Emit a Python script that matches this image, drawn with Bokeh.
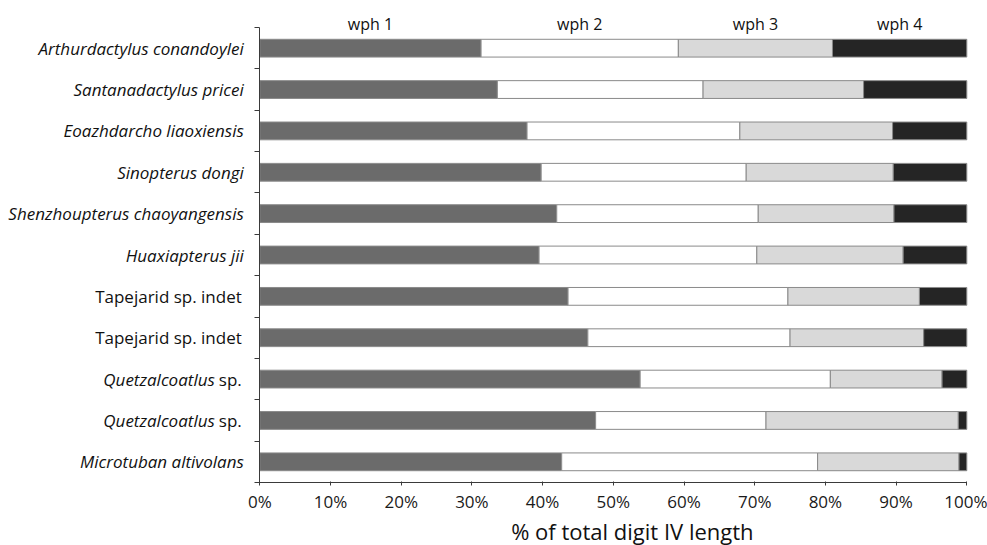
from bokeh.plotting import figure
from bokeh.models import ColumnDataSource, Range1d, FixedTicker, PrintfTickFormatter, CustomLabelingPolicy
from bokeh.core.properties import value
from bokeh.embed import file_html
from bokeh.resources import INLINE

# ---- data (top row first) ----
species_italic = ["Arthurdactylus conandoylei", "Santanadactylus pricei", "Eoazhdarcho liaoxiensis",
                  "Sinopterus dongi", "Shenzhoupterus chaoyangensis", "Huaxiapterus jii",
                  "", "", "Quetzalcoatlus", "Quetzalcoatlus", "Microtuban altivolans"]
species_roman = ["", "", "", "", "", "", "Tapejarid sp. indet", "Tapejarid sp. indet", "sp.", "sp.", ""]

wph1 = [31.3, 33.6, 37.8, 39.8, 42.0, 39.5, 43.6, 46.4, 53.8, 47.5, 42.7]
wph2 = [27.9, 29.1, 30.1, 29.0, 28.5, 30.8, 31.1, 28.6, 26.9, 24.1, 36.2]
wph3 = [21.8, 22.7, 21.6, 20.8, 19.2, 20.7, 18.6, 18.9, 15.8, 27.2, 20.0]
wph4 = [19.0, 14.6, 10.5, 10.4, 10.3, 9.0, 6.7, 6.1, 3.5, 1.2, 1.1]
segment_names = ["wph 1", "wph 2", "wph 3", "wph 4"]
percent_ticks = list(range(0, 101, 10))
axis_title = "% of total digit IV length"

colors = ["#6b6b6b", "#ffffff", "#d9d9d9", "#252525"]
FONT = "Open Sans"

n = len(wph1)
ypos = [n - i - 0.5 for i in range(n)]

# ---- layout (canvas pixels) ----
W, H = 987, 545
PX0, PX100 = 259.3, 966.3
PY0, PYTOP = 482.0, 27.0
sx = (PX100 - PX0) / 100.0
sy = (PY0 - PYTOP) / n

p = figure(width=W, height=H, output_backend="svg", toolbar_location=None,
           x_range=Range1d(-PX0 / sx, (W - PX0) / sx),
           y_range=Range1d(-(H - PY0) / sy, n + PYTOP / sy),
           min_border=0, min_border_left=0, min_border_right=0,
           min_border_top=0, min_border_bottom=0)
p.outline_line_color = None
p.xgrid.visible = False
p.ygrid.visible = False
p.background_fill_color = "white"
p.border_fill_color = "white"

src = ColumnDataSource(dict(y=ypos, wph1=wph1, wph2=wph2, wph3=wph3, wph4=wph4))
p.hbar_stack(["wph1", "wph2", "wph3", "wph4"], y="y", height=0.43, source=src,
             fill_color=colors, line_color="#8a8a8a", line_width=1)

# axes
AX_COL = "#3a3a3a"
p.xaxis.fixed_location = 0
p.xaxis.bounds = (0, 100)
p.xaxis.ticker = FixedTicker(ticks=percent_ticks)
p.xaxis.formatter = PrintfTickFormatter(format="%d%%")
p.xaxis.major_label_text_font = FONT
p.xaxis.major_label_text_font_size = "17px"
p.xaxis.major_label_text_color = "#1a1a1a"
p.xaxis.major_label_standoff = 4
p.xaxis.major_tick_out = 3
p.xaxis.major_tick_in = 1
p.xaxis.minor_tick_line_color = None
p.xaxis.axis_line_color = AX_COL
p.xaxis.major_tick_line_color = AX_COL

p.yaxis.fixed_location = 0
p.yaxis.bounds = (0, n)
p.yaxis.ticker = FixedTicker(ticks=list(range(n + 1)))
p.yaxis.major_label_policy = CustomLabelingPolicy(code="return new Set()")
p.yaxis.major_tick_out = 5
p.yaxis.major_tick_in = 0
p.yaxis.minor_tick_line_color = None
p.yaxis.axis_line_color = AX_COL
p.yaxis.major_tick_line_color = AX_COL

# species labels (italic genus/species, roman remainder)
SUFFIX_GAP = 27
ITAL_PAD = 16
ROM_PAD = 18
LAB_SIZE = "17px"
it_rows = [i for i in range(n) if species_italic[i]]
ro_rows = [i for i in range(n) if species_roman[i]]
ital_src = ColumnDataSource(dict(
    x=[0] * len(it_rows), y=[ypos[i] for i in it_rows], t=[species_italic[i] for i in it_rows],
    off=[-(ROM_PAD + SUFFIX_GAP) if species_roman[i] else -ITAL_PAD for i in it_rows]))
rom_src = ColumnDataSource(dict(
    x=[0] * len(ro_rows), y=[ypos[i] for i in ro_rows], t=[species_roman[i] for i in ro_rows]))
p.text(x="x", y="y", text="t", source=ital_src, x_offset="off", text_align="right",
       text_baseline="middle", text_font=value(FONT), text_font_style="italic",
       text_font_size=LAB_SIZE, text_color="#111111")
p.text(x="x", y="y", text="t", source=rom_src, x_offset=-ROM_PAD, text_align="right",
       text_baseline="middle", text_font=value(FONT), text_font_style="normal",
       text_font_size=LAB_SIZE, text_color="#111111")

# segment labels above the top bar, centred on its segments
top = [wph1[0], wph2[0], wph3[0], wph4[0]]
mids, acc = [], 0.0
for v in top:
    mids.append(acc + v / 2.0)
    acc += v
seg_src = ColumnDataSource(dict(x=mids, y=[n] * 4, t=segment_names))
p.text(x="x", y="y", text="t", source=seg_src, y_offset=-4, text_align="center",
       text_baseline="alphabetic", text_font=value(FONT), text_font_size="16px",
       text_color="#111111")

# axis title
title_src = ColumnDataSource(dict(x=[52.7], y=[0], t=[axis_title]))
p.text(x="x", y="y", text="t", source=title_src, y_offset=48, text_align="center",
       text_baseline="alphabetic", text_font=value(FONT), text_font_size="22px",
       text_color="#111111")

open("out.html", "w").write(file_html(p, INLINE))
